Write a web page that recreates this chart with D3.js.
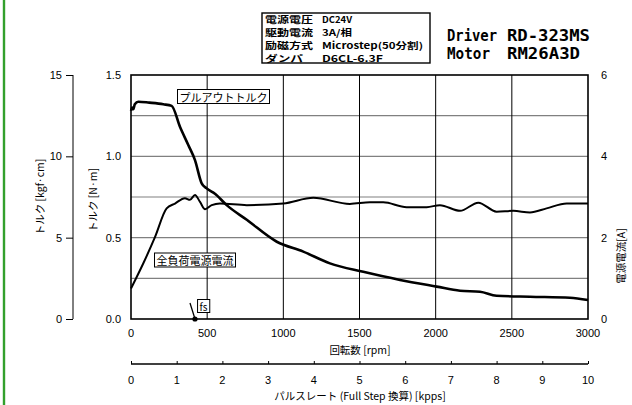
<!DOCTYPE html>
<html>
<head>
<meta charset="utf-8">
<script src="https://cdn.jsdelivr.net/npm/d3@7"></script>
<style>
  body { margin: 0; background: #fff; }
  text { font-family: "Liberation Sans", "Noto Sans CJK JP", sans-serif; }
</style>
</head>
<body>
<div id="chart"></div>
<script>
// Pull-out torque [N·m] vs speed [rpm]
const torqueRpm = [0, 8, 15, 25, 48, 120, 212, 267, 322, 376, 420, 464, 497, 551, 628, 760, 957, 1131, 1306, 1525, 1766, 2007, 2160, 2291, 2400, 2619, 2881, 3000];
const torqueVal = [1.28, 1.30, 1.29, 1.32, 1.336, 1.33, 1.32, 1.31, 1.18, 1.07, 0.977, 0.834, 0.803, 0.77, 0.70, 0.61, 0.475, 0.414, 0.342, 0.29, 0.24, 0.199, 0.174, 0.168, 0.143, 0.137, 0.131, 0.117];

// Full-load supply current [A] vs speed [rpm]
const currentRpm = [0, 81, 158, 234, 289, 354, 387, 420, 453, 486, 530, 584, 760, 1000, 1197, 1437, 1569, 1656, 1809, 1941, 2028, 2160, 2280, 2400, 2510, 2619, 2728, 2860, 3000];
const currentVal = [0.75, 1.37, 2.02, 2.72, 2.84, 2.97, 2.93, 3.05, 2.88, 2.70, 2.80, 2.84, 2.80, 2.84, 2.98, 2.83, 2.87, 2.87, 2.75, 2.75, 2.80, 2.66, 2.86, 2.64, 2.66, 2.62, 2.72, 2.84, 2.84];

const rpmTicks = [0, 500, 1000, 1500, 2000, 2500, 3000];
const nmTicks = [0, 0.5, 1.0, 1.5];
const nmGrid = [0.25, 0.5, 0.75, 1.0, 1.25];
const kgfTicks = [0, 5, 10, 15];
const ampTicks = [0, 2, 4, 6];
const kppsTicks = [0, 1, 2, 3, 4, 5, 6, 7, 8, 9, 10];
const fsRpm = 420;

const specLabels = ['電源電圧', '駆動電流', '励磁方式', 'ダンパ'];
const specValues = ['DC24V', '3A/相', 'Microstep(50分割)', 'D6CL-6.3F'];

const W = 632, H = 405;
const plot = { left: 131, right: 588, top: 75, bottom: 319 };

const svg = d3.select('#chart').append('svg')
    .attr('width', W).attr('height', H);

// green margin line at the left edge
svg.append('line')
    .attr('x1', 4).attr('x2', 4).attr('y1', 0).attr('y2', H)
    .attr('stroke', '#33a02c').attr('stroke-width', 2.4);

// Scales
const x = d3.scaleLinear().domain([0, 3000]).range([plot.left, plot.right]);
const y = d3.scaleLinear().domain([0, 1.5]).range([plot.bottom, plot.top]);
const yKgf = d3.scaleLinear().domain([0, 15]).range([plot.bottom, plot.top]);
const yAmp = d3.scaleLinear().domain([0, 6]).range([plot.bottom, plot.top]);
const xKpps = d3.scaleLinear().domain([0, 10]).range([plot.left, plot.right]);

// Grid
svg.append('g').selectAll('line').data(nmGrid).enter().append('line')
    .attr('x1', plot.left).attr('x2', plot.right)
    .attr('y1', d => y(d)).attr('y2', d => y(d))
    .attr('stroke', '#808080').attr('stroke-width', 1.2);

svg.append('g').selectAll('line').data(rpmTicks.slice(1, -1)).enter().append('line')
    .attr('x1', d => x(d)).attr('x2', d => x(d))
    .attr('y1', plot.top).attr('y2', plot.bottom)
    .attr('stroke', '#000').attr('stroke-width', 1);

// Frame
svg.append('rect')
    .attr('x', plot.left).attr('y', plot.top)
    .attr('width', plot.right - plot.left).attr('height', plot.bottom - plot.top)
    .attr('fill', 'none').attr('stroke', '#000').attr('stroke-width', 1.6);

// Curves
const torqueLine = d3.line()
    .x((d, i) => x(torqueRpm[i]))
    .y(d => y(d))
    .curve(d3.curveMonotoneX);

svg.append('path')
    .datum(torqueVal)
    .attr('d', torqueLine)
    .attr('fill', 'none').attr('stroke', '#000').attr('stroke-width', 2.6);

const currentLine = d3.line()
    .x((d, i) => x(currentRpm[i]))
    .y(d => yAmp(d))
    .curve(d3.curveMonotoneX);

svg.append('path')
    .datum(currentVal)
    .attr('d', currentLine)
    .attr('fill', 'none').attr('stroke', '#000').attr('stroke-width', 2);

// Labels inside the plot
function boxLabel(cx, cy, str, size) {
    const g = svg.append('g');
    const t = g.append('text')
        .attr('x', cx).attr('y', cy)
        .attr('text-anchor', 'middle').attr('dominant-baseline', 'central')
        .style('font-size', size + 'px')
        .style('font-family', '"Noto Sans CJK JP", sans-serif')
        .text(str);
    const bb = t.node().getBBox();
    g.insert('rect', 'text')
        .attr('x', bb.x - 2).attr('y', bb.y + 1)
        .attr('width', bb.width + 4).attr('height', bb.height - 2)
        .attr('fill', '#fff').attr('stroke', '#000').attr('stroke-width', 1);
}
boxLabel(223.5, 96.5, 'プルアウトトルク', 11);
boxLabel(195, 260, '全負荷電源電流', 11);
boxLabel(203.5, 306, 'fs', 10);

// fs marker
svg.append('line')
    .attr('x1', x(fsRpm) - 5).attr('y1', 303)
    .attr('x2', x(fsRpm)).attr('y2', y(0))
    .attr('stroke', '#000').attr('stroke-width', 1.3);
svg.append('circle')
    .attr('cx', x(fsRpm)).attr('cy', y(0)).attr('r', 2.6).attr('fill', '#000');

// Tick labels - left inner (N·m)
svg.append('g').selectAll('text').data(nmTicks).enter().append('text')
    .attr('x', 121).attr('y', d => y(d))
    .attr('text-anchor', 'end').attr('dominant-baseline', 'central')
    .style('font-size', '11px')
    .text(d => d.toFixed(1));

// Left outer axis (kgf·cm)
const kgfAxis = svg.append('g').attr('transform', 'translate(73,0)')
    .call(d3.axisLeft(yKgf).tickValues(kgfTicks).tickSize(7).tickPadding(4));
kgfAxis.select('.domain').attr('stroke', '#000').attr('d', `M0,${plot.top}V${plot.bottom}`);
kgfAxis.selectAll('text').style('font-size', '11px').attr('fill', '#000')
    .style('font-family', '"Liberation Sans", sans-serif');

// Right axis labels (A)
svg.append('g').selectAll('text').data(ampTicks).enter().append('text')
    .attr('x', 604).attr('y', d => yAmp(d))
    .attr('text-anchor', 'middle').attr('dominant-baseline', 'central')
    .style('font-size', '11px')
    .text(d => d);

// Bottom rpm labels
svg.append('g').selectAll('text').data(rpmTicks).enter().append('text')
    .attr('x', d => x(d)).attr('y', 333)
    .attr('text-anchor', 'middle').attr('dominant-baseline', 'central')
    .style('font-size', '11px')
    .text(d => d);

// Pulse-rate axis
const kppsAxis = svg.append('g').attr('transform', 'translate(0,364)')
    .call(d3.axisTop(xKpps).tickValues(kppsTicks).tickSize(3).tickFormat(''));
kppsAxis.select('.domain').attr('d', `M${plot.left},0H${plot.right}`).attr('stroke-width', 1.3);

svg.append('g').selectAll('text').data(kppsTicks).enter().append('text')
    .attr('x', d => xKpps(d)).attr('y', 380)
    .attr('text-anchor', 'middle').attr('dominant-baseline', 'central')
    .style('font-size', '11px')
    .text(d => d);

// Axis titles
function title(tx, ty, str, rot) {
    svg.append('text')
        .attr('transform', `translate(${tx},${ty}) rotate(${rot})`)
        .attr('text-anchor', 'middle').attr('dominant-baseline', 'central')
        .style('font-size', '10.5px')
        .style('font-family', '"Noto Sans CJK JP", sans-serif')
        .text(str);
}
title(360, 349, '回転数 [rpm]', 0);
title(360, 395, 'パルスレート (Full Step 換算) [kpps]', 0);
title(92, 200, 'トルク [N·m]', -90);
title(39, 197, 'トルク [kgf·cm]', -90);
title(620, 256, '電源電流[A]', -90);

// Spec box
svg.append('rect')
    .attr('x', 262).attr('y', 13).attr('width', 168).attr('height', 50)
    .attr('fill', '#fff').attr('stroke', '#000').attr('stroke-width', 1.4);

const specWidths = [[48, 30], [48, 30], [48, 101], [38, 61]];
specLabels.forEach((s, i) => {
    const ty = 19.5 + i * 13;
    svg.append('text')
        .attr('x', 265).attr('y', ty)
        .attr('dominant-baseline', 'central')
        .attr('textLength', specWidths[i][0]).attr('lengthAdjust', 'spacingAndGlyphs')
        .style('font-size', '9px').style('font-weight', 'bold')
        .style('font-family', '"Noto Sans CJK JP", sans-serif')
        .text(s);
    svg.append('text')
        .attr('x', 322).attr('y', ty)
        .attr('dominant-baseline', 'central')
        .attr('textLength', specWidths[i][1]).attr('lengthAdjust', 'spacingAndGlyphs')
        .style('font-size', '9px').style('font-weight', 'bold')
        .style('font-family', '"Noto Sans CJK JP", sans-serif')
        .text(specValues[i]);
});

// Driver / Motor names
const names = [['Driver', 'RD-323MS', 50, 83], ['Motor', 'RM26A3D', 43, 73]];
names.forEach((n, i) => {
    svg.append('text')
        .attr('x', 447).attr('y', 41 + i * 18)
        .attr('textLength', n[2]).attr('lengthAdjust', 'spacingAndGlyphs')
        .style('font-size', '15px').style('font-weight', 'bold')
        .style('font-family', '"DejaVu Sans Mono", monospace')
        .text(n[0]);
    svg.append('text')
        .attr('x', 507).attr('y', 41 + i * 18)
        .attr('textLength', n[3]).attr('lengthAdjust', 'spacingAndGlyphs')
        .style('font-size', '15px').style('font-weight', 'bold')
        .style('font-family', '"DejaVu Sans Mono", monospace')
        .text(n[1]);
});
</script>
</body>
</html>
